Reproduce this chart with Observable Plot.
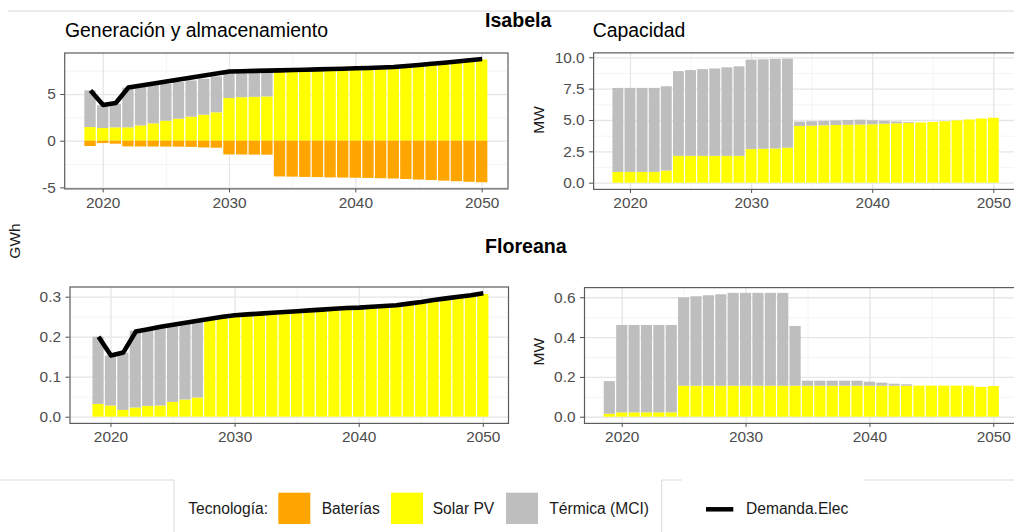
<!DOCTYPE html>
<html>
<head>
<meta charset="utf-8">
<script src="https://cdn.jsdelivr.net/npm/d3@7"></script>
<script src="https://cdn.jsdelivr.net/npm/@observablehq/plot@0.6"></script>
<style>
  html, body { margin: 0; padding: 0; background: #fff; overflow: hidden; }
  #chart { position: relative; width: 1014px; height: 532px; overflow: hidden; background: #fff; }
  .panel { position: absolute; }
  .panel svg { max-width: none; }
  #overlay { position: absolute; left: 0; top: 0; pointer-events: none; }
</style>
</head>
<body>
<div id="chart"></div>
<script>
// ---- data -------------------------------------------------------------
const years = [2019, 2020, 2021, 2022, 2023, 2024, 2025, 2026, 2027, 2028, 2029,
               2030, 2031, 2032, 2033, 2034, 2035, 2036, 2037, 2038, 2039, 2040,
               2041, 2042, 2043, 2044, 2045, 2046, 2047, 2048, 2049, 2050];

const techs = ["Baterías", "Solar PV", "Térmica (MCI)"];
const techColors = ["#FFA500", "#FFFF00", "#BEBEBE"];
const demandLabel = "Demanda.Elec";

const xTicks = [2020, 2030, 2040, 2050];
const xMinor = [2025, 2035, 2045];

// Isabela – generation and storage (GWh)
const isabelaDemanda = [5.43, 3.88, 4.10, 5.75, 5.97, 6.18, 6.40, 6.61, 6.83, 7.04, 7.26,
  7.46, 7.49, 7.53, 7.56, 7.59, 7.63, 7.66, 7.70, 7.73, 7.77, 7.81,
  7.85, 7.90, 7.95, 8.05, 8.17, 8.29, 8.41, 8.54, 8.67, 8.80];
const isabelaSolarGen = [1.46, 1.36, 1.43, 1.43, 1.64, 1.86, 2.14, 2.36, 2.57, 2.79, 3.04,
  4.57, 4.66, 4.70, 4.74, 7.47, 7.51, 7.54, 7.58, 7.61, 7.65, 7.69,
  7.73, 7.78, 7.83, 7.93, 8.05, 8.17, 8.29, 8.42, 8.56, 8.70];
const isabelaTermicaGen = [3.93, 2.43, 2.53, 4.25, 4.18, 4.10, 3.97, 3.93, 3.89, 3.85, 3.85,
  2.73, 2.68, 2.68, 2.68, 0, 0, 0, 0, 0, 0, 0,
  0, 0, 0, 0, 0, 0, 0, 0, 0, 0];
const isabelaBateriasGen = [-0.57, -0.25, -0.32, -0.61, -0.62, -0.62, -0.63, -0.64, -0.66, -0.72, -0.75,
  -1.47, -1.48, -1.49, -1.50, -3.83, -3.85, -3.88, -3.90, -3.93, -3.95, -3.97,
  -3.99, -4.02, -4.05, -4.10, -4.16, -4.22, -4.28, -4.34, -4.40, -4.45];

// Isabela – installed capacity (MW)
const isabelaSolarCap = [0.86, 0.86, 0.86, 0.86, 0.97, 2.14, 2.14, 2.14, 2.14, 2.14, 2.14,
  2.68, 2.71, 2.73, 2.79, 4.52, 4.55, 4.58, 4.60, 4.62, 4.64, 4.66,
  4.70, 4.74, 4.77, 4.80, 4.84, 4.90, 4.97, 5.04, 5.12, 5.18];
const isabelaTermicaCap = [6.70, 6.70, 6.70, 6.70, 6.72, 6.76, 6.84, 6.92, 6.97, 7.06, 7.14,
  7.13, 7.13, 7.14, 7.10, 0.35, 0.35, 0.35, 0.36, 0.38, 0.38, 0.32,
  0.24, 0.14, 0.06, 0, 0, 0, 0, 0, 0, 0];

// Floreana – generation (GWh)
const floreanaDemanda = [0.201, 0.154, 0.162, 0.214, 0.220, 0.226, 0.231, 0.236, 0.241, 0.246, 0.251,
  0.255, 0.257, 0.259, 0.261, 0.263, 0.265, 0.267, 0.269, 0.271, 0.273, 0.274,
  0.276, 0.278, 0.280, 0.284, 0.288, 0.293, 0.297, 0.301, 0.305, 0.310];
const floreanaSolarGen = [0.032, 0.028, 0.017, 0.023, 0.027, 0.028, 0.037, 0.043, 0.048, 0.243, 0.248,
  0.252, 0.254, 0.256, 0.258, 0.260, 0.262, 0.264, 0.266, 0.268, 0.270, 0.271,
  0.273, 0.275, 0.277, 0.281, 0.285, 0.290, 0.294, 0.298, 0.302, 0.307];
const floreanaTermicaGen = [0.168, 0.125, 0.143, 0.192, 0.193, 0.198, 0.194, 0.193, 0.192, 0, 0,
  0, 0, 0, 0, 0, 0, 0, 0, 0, 0, 0,
  0, 0, 0, 0, 0, 0, 0, 0, 0, 0];

// Floreana – installed capacity (MW)
const floreanaSolarCap = [0.015, 0.022, 0.022, 0.022, 0.022, 0.022, 0.156, 0.156, 0.156, 0.156, 0.156,
  0.156, 0.156, 0.156, 0.156, 0.156, 0.156, 0.156, 0.156, 0.156, 0.156, 0.156,
  0.156, 0.156, 0.156, 0.156, 0.156, 0.156, 0.156, 0.156, 0.150, 0.154];
const floreanaTermicaCap = [0.164, 0.439, 0.439, 0.439, 0.439, 0.439, 0.444, 0.449, 0.454, 0.459, 0.466,
  0.466, 0.466, 0.466, 0.466, 0.300, 0.025, 0.025, 0.025, 0.025, 0.025, 0.020,
  0.015, 0.010, 0.007, 0, 0, 0, 0, 0, 0, 0];

// ---- helpers ----------------------------------------------------------
const FONT = '"Liberation Sans", Arial, Helvetica, sans-serif';

// long-format rows; solar first so it sits at the bottom of each stack
function stackRows(solar, termica, baterias) {
  const rows = [];
  years.forEach((year, i) => {
    rows.push({year, tech: "Solar PV", value: solar[i]});
    rows.push({year, tech: "Térmica (MCI)", value: termica[i]});
    if (baterias) rows.push({year, tech: "Baterías", value: baterias[i]});
  });
  return rows.filter(d => d.value !== 0);
}

function panel({rows, demand, xDomain, yDomain, yTicks, yMinor, yFormat, box}) {
  const marks = [
    Plot.ruleX(xMinor, {stroke: "#f1f1f1", strokeWidth: 0.8}),
    Plot.ruleY(yMinor, {stroke: "#f1f1f1", strokeWidth: 0.8}),
    Plot.ruleX(xTicks, {stroke: "#e6e6e6", strokeWidth: 1.3}),
    Plot.ruleY(yTicks, {stroke: "#e6e6e6", strokeWidth: 1.3}),
    Plot.rectY(rows, {
      x1: d => d.year - 0.45,
      x2: d => d.year + 0.45,
      y: "value",
      fill: "tech"
    })
  ];
  if (demand) {
    marks.push(Plot.line(years.map((year, i) => ({year, value: demand[i]})), {
      x: "year", y: "value", stroke: "#000", strokeWidth: 4.6, strokeLinecap: "butt"
    }));
  }
  marks.push(Plot.frame({stroke: "#5c5c5c", strokeWidth: 1.2}));
  return Plot.plot({
    width: box.width, height: box.height,
    marginLeft: box.ml, marginRight: box.mr, marginTop: box.mt, marginBottom: box.mb,
    style: {fontFamily: FONT, fontSize: "15.4px", color: "#4d4d4d", background: "transparent", overflow: "visible"},
    x: {domain: xDomain, ticks: xTicks, tickFormat: d => String(d), tickSize: 4, tickPadding: 4, label: null},
    y: {domain: yDomain, ticks: yTicks, tickFormat: yFormat, tickSize: 4, tickPadding: 5, label: null},
    color: {domain: techs, range: techColors},
    marks
  });
}

function place(node, left, top, width, height) {
  const wrap = document.createElement("div");
  wrap.className = "panel";
  Object.assign(wrap.style, {left: left + "px", top: top + "px", width: width + "px", height: height + "px"});
  wrap.appendChild(node);
  document.getElementById("chart").appendChild(wrap);
}

// ---- panels -----------------------------------------------------------
place(panel({
  rows: stackRows(isabelaSolarGen, isabelaTermicaGen, isabelaBateriasGen),
  demand: isabelaDemanda,
  xDomain: [2016.955, 2052.045],
  yDomain: [-5.11, 9.45],
  yTicks: [-5, 0, 5], yMinor: [-2.5, 2.5, 7.5],
  yFormat: d => String(d),
  box: {width: 520, height: 180, ml: 64.2, mr: 12.5, mt: 12.5, mb: 31.6}
}), 0, 40, 520, 180);

place(panel({
  rows: stackRows(isabelaSolarCap, isabelaTermicaCap),
  xDomain: [2016.955, 2052.045],
  yDomain: [-0.495, 10.395],
  yTicks: [0, 2.5, 5, 7.5, 10], yMinor: [1.25, 3.75, 6.25, 8.75],
  yFormat: d3.format(".1f"),
  box: {width: 500, height: 180, ml: 73.1, mr: 1.9, mt: 12.35, mb: 31.1}
}), 520, 40, 500, 180);

place(panel({
  rows: stackRows(floreanaSolarGen, floreanaTermicaGen),
  demand: floreanaDemanda,
  xDomain: [2016.70, 2052.03],
  yDomain: [-0.0155, 0.3255],
  yTicks: [0, 0.1, 0.2, 0.3], yMinor: [0.05, 0.15, 0.25],
  yFormat: d3.format(".1f"),
  box: {width: 520, height: 180, ml: 69.5, mr: 12, mt: 16.5, mb: 27.1}
}), 0, 270, 520, 180);

place(panel({
  rows: stackRows(floreanaSolarCap, floreanaTermicaCap),
  xDomain: [2016.955, 2052.045],
  yDomain: [-0.031, 0.651],
  yTicks: [0, 0.2, 0.4, 0.6], yMinor: [0.1, 0.3, 0.5],
  yFormat: d3.format(".1f"),
  box: {width: 500, height: 180, ml: 64, mr: 1.4, mt: 17.1, mb: 27.1}
}), 520, 270, 500, 180);

// ---- titles, axis titles and legend -----------------------------------
const svg = d3.create("svg")
  .attr("id", "overlay")
  .attr("width", 1014).attr("height", 532)
  .attr("font-family", FONT);

// faint frame lines around the figure
const rules = [
  [8, 11, 1014, 11],
  [0, 480, 174, 480], [174, 480, 174, 532],
  [661.7, 480, 681.7, 480], [661.7, 480, 661.7, 532],
  [863.3, 480, 1014, 480]
];
svg.append("g").attr("stroke", "#d9d9d9").attr("stroke-width", 1)
  .selectAll("line").data(rules).join("line")
  .attr("x1", d => d[0]).attr("y1", d => d[1]).attr("x2", d => d[2]).attr("y2", d => d[3]);

const text = (x, y, s, size, weight = "normal", fill = "#000") =>
  svg.append("text").attr("x", x).attr("y", y).attr("font-size", size)
    .attr("font-weight", weight).attr("fill", fill).text(s);

text(485, 27, "Isabela", 19.6, "bold");
text(485, 253, "Floreana", 19.6, "bold");
text(65, 37.3, "Generación y almacenamiento", 19.4);
text(592.7, 37.3, "Capacidad", 19.4);

const vText = (x, y, s) =>
  svg.append("text").attr("transform", `translate(${x},${y}) rotate(-90)`)
    .attr("text-anchor", "middle").attr("font-size", 15.5).attr("fill", "#1a1a1a").text(s);
vText(20, 241, "GWh");
vText(543.5, 120, "MW");
vText(544, 351.7, "MW");

// legend
const lg = svg.append("g");
lg.append("text").attr("x", 188.3).attr("y", 514).attr("font-size", 15.6).attr("fill", "#1a1a1a").text("Tecnología:");
const keyX = [278.3, 391, 506];
const labelX = [321.7, 432.7, 549.3];
techs.forEach((t, i) => {
  lg.append("rect").attr("x", keyX[i]).attr("y", 492.7).attr("width", 32).attr("height", 31.3)
    .attr("fill", techColors[i]);
  lg.append("text").attr("x", labelX[i]).attr("y", 514).attr("font-size", 15.6)
    .attr("fill", "#1a1a1a").text(t);
});
lg.append("line").attr("x1", 706).attr("x2", 733.3).attr("y1", 509.3).attr("y2", 509.3)
  .attr("stroke", "#000").attr("stroke-width", 4.5);
lg.append("text").attr("x", 746).attr("y", 514).attr("font-size", 15.6).attr("fill", "#1a1a1a").text(demandLabel);

document.getElementById("chart").appendChild(svg.node());
</script>
</body>
</html>
